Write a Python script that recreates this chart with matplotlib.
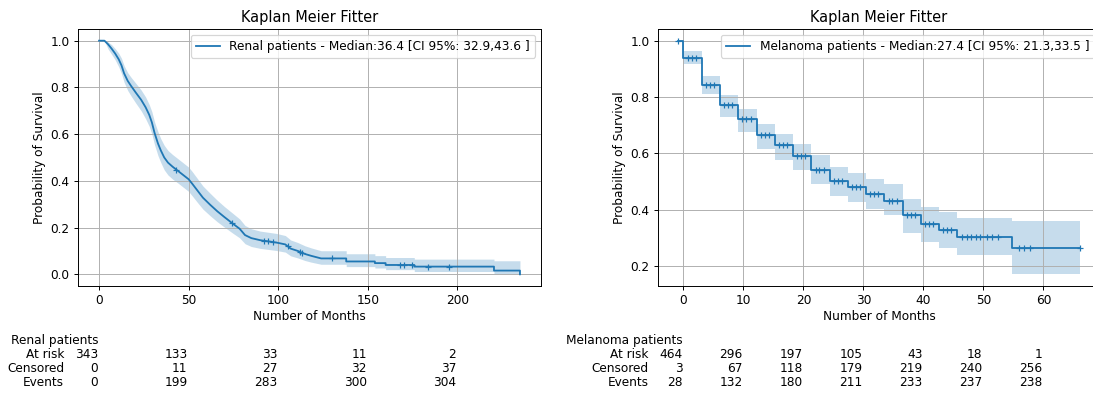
import numpy as np
import matplotlib
matplotlib.use('Agg')
import matplotlib.pyplot as plt
import matplotlib.transforms as mtransforms

# Renal patients: curve vertices (months, survival, 95% CI)
renal_t = [0, 3.0, 5.0, 7.0, 9.0, 11.0, 12.5, 14.0, 16.0, 18.0, 20.5, 23.5, 26.0, 28.0,
           29.5, 31.0, 32.9, 34.5, 36.4, 38.5, 41.0, 44.0, 47.0, 50.0, 52.0, 55.0, 58.0,
           62.0, 66.0, 70.0, 74.5, 78.5, 81.5, 85.0, 90.0, 99.0, 104.0, 107.0, 111.0,
           115.0, 118.5, 124.0, 138.0, 138.0, 154.0, 154.0, 160.0, 160.0, 176.0, 176.0,
           220.5, 220.5, 235.0, 235.0]
renal_s = [1.0, 1.0, 0.985, 0.966, 0.945, 0.920, 0.895, 0.860, 0.828, 0.805, 0.778, 0.747,
           0.715, 0.683, 0.650, 0.605, 0.560, 0.530, 0.500, 0.478, 0.461, 0.443, 0.425,
           0.407, 0.388, 0.358, 0.328, 0.298, 0.270, 0.245, 0.218, 0.195, 0.168, 0.155,
           0.146, 0.136, 0.128, 0.110, 0.100, 0.087, 0.079, 0.068, 0.068, 0.055, 0.055,
           0.048, 0.048, 0.040, 0.040, 0.033, 0.033, 0.016, 0.016, 0.0]
renal_lo = [1.0, 1.0, 0.965, 0.942, 0.918, 0.888, 0.860, 0.822, 0.787, 0.762, 0.733, 0.700,
            0.666, 0.634, 0.600, 0.554, 0.508, 0.478, 0.447, 0.425, 0.408, 0.391, 0.373,
            0.355, 0.336, 0.307, 0.279, 0.251, 0.225, 0.202, 0.177, 0.156, 0.131, 0.119,
            0.111, 0.102, 0.095, 0.079, 0.070, 0.059, 0.052, 0.043, 0.043, 0.033, 0.033,
            0.027, 0.027, 0.020, 0.020, 0.012, 0.012, 0.002, 0.002, 0.002]
renal_hi = [1.0, 1.0, 0.995, 0.983, 0.966, 0.946, 0.925, 0.893, 0.863, 0.842, 0.818, 0.789,
            0.759, 0.727, 0.696, 0.652, 0.610, 0.580, 0.552, 0.530, 0.513, 0.495, 0.477,
            0.459, 0.440, 0.409, 0.378, 0.347, 0.317, 0.290, 0.262, 0.237, 0.209, 0.195,
            0.185, 0.175, 0.166, 0.147, 0.136, 0.122, 0.113, 0.101, 0.101, 0.088, 0.088,
            0.080, 0.080, 0.072, 0.072, 0.065, 0.065, 0.058, 0.058, 0.058]
renal_cens_t = [43.0, 74.5, 92.0, 94.5, 97.0, 105.5, 112.0, 113.5, 130.0, 168.0, 170.5,
                174.5, 183.5, 195.5]
renal_cens_s = [0.447, 0.218, 0.143, 0.141, 0.138, 0.122, 0.097, 0.093, 0.068, 0.040,
                0.040, 0.040, 0.033, 0.033]
renal_label = "Renal patients - Median:36.4 [CI 95%: 32.9,43.6 ]"

# Melanoma patients: step times and levels
mel_t = [-0.9, 0.0, 3.04, 6.09, 9.13, 12.18, 15.22, 18.26, 21.31, 24.35, 27.39, 30.44,
         33.48, 36.53, 39.57, 42.61, 45.66, 54.79, 66.07]
mel_s = [1.0, 0.940, 0.843, 0.771, 0.720, 0.664, 0.629, 0.589, 0.539, 0.502, 0.480, 0.456,
         0.432, 0.379, 0.349, 0.327, 0.304, 0.262, 0.262]
mel_lo = [1.0, 0.917, 0.810, 0.730, 0.674, 0.614, 0.575, 0.539, 0.492, 0.448, 0.426, 0.402,
          0.379, 0.317, 0.286, 0.263, 0.239, 0.170, 0.170]
mel_hi = [1.0, 0.962, 0.875, 0.807, 0.758, 0.704, 0.670, 0.632, 0.593, 0.551, 0.530, 0.510,
          0.492, 0.436, 0.408, 0.390, 0.370, 0.361, 0.361]
mel_cens_t = [-0.9, 0.7, 1.35, 2.05, 3.74, 4.39, 5.09, 6.79, 7.44, 8.14, 9.83, 10.48, 11.18,
              12.88, 13.53, 14.23, 15.92, 16.57, 17.27, 18.96, 19.61, 20.31, 22.01, 22.66,
              23.36, 25.05, 25.70, 26.40, 28.09, 28.74, 29.44, 31.14, 31.79, 32.49, 34.18,
              34.83, 35.53, 37.23, 37.88, 38.58, 40.27, 40.92, 41.62, 43.31, 43.96, 44.66,
              46.5, 47.3, 48.0, 48.7, 49.5, 50.6, 51.5, 52.5, 55.9, 56.8, 57.8, 66.07]
mel_cens_s = [1.0, 0.940, 0.940, 0.940, 0.843, 0.843, 0.843, 0.771, 0.771, 0.771, 0.720,
              0.720, 0.720, 0.664, 0.664, 0.664, 0.629, 0.629, 0.629, 0.589, 0.589, 0.589,
              0.539, 0.539, 0.539, 0.502, 0.502, 0.502, 0.480, 0.480, 0.480, 0.456, 0.456,
              0.456, 0.432, 0.432, 0.432, 0.379, 0.379, 0.379, 0.349, 0.349, 0.349, 0.327,
              0.327, 0.327, 0.304, 0.304, 0.304, 0.304, 0.304, 0.304, 0.304, 0.304, 0.262,
              0.262, 0.262, 0.262]
mel_label = "Melanoma patients - Median:27.4 [CI 95%: 21.3,33.5 ]"

# at-risk tables
renal_ticks = [0, 50, 100, 150, 200]
renal_at_risk = [343, 133, 33, 11, 2]
renal_censored = [0, 11, 27, 32, 37]
renal_events = [0, 199, 283, 300, 304]

mel_ticks = [0, 10, 20, 30, 40, 50, 60]
mel_at_risk = [464, 296, 197, 105, 43, 18, 1]
mel_censored = [3, 67, 118, 179, 219, 240, 256]
mel_events = [28, 132, 180, 211, 233, 237, 238]

color = '#1f77b4'
W, H = 1093, 394
DPI = 87
fig = plt.figure(figsize=(W / DPI, H / DPI), dpi=DPI)
ax1 = fig.add_axes([78 / W, (H - 286) / H, 463 / W, 257 / H])
ax2 = fig.add_axes([658 / W, (H - 286) / H, 442 / W, 257 / H])

# left: renal
ax1.fill_between(renal_t, renal_lo, renal_hi, color=color, alpha=0.25, linewidth=0)
ax1.plot(renal_t, renal_s, color=color, lw=1.5, label=renal_label)
ax1.plot(renal_cens_t, renal_cens_s, ls='none', marker='+', ms=5, mew=1, color=color)

# right: melanoma
ax2.fill_between(mel_t, mel_lo, mel_hi, step='post', color=color, alpha=0.25, linewidth=0)
ax2.step(mel_t, mel_s, where='post', color=color, lw=1.5, label=mel_label)
ax2.plot(mel_cens_t, mel_cens_s, ls='none', marker='+', ms=5, mew=1, color=color)

for ax in (ax1, ax2):
    ax.set_title('Kaplan Meier Fitter')
    ax.set_xlabel('Number of Months', labelpad=3)
    ax.set_ylabel('Probability of Survival')
    ax.tick_params(axis='x', pad=2.8)
    ax.grid(True)
    ax.legend(loc='upper right')


def add_counts(ax, name, ticks, at_risk, censored, events):
    trans = mtransforms.blended_transform_factory(ax.transData, fig.transFigure)
    lab_trans = mtransforms.offset_copy(trans, fig=fig, x=-35, y=0, units='dots')
    num_trans = mtransforms.offset_copy(trans, fig=fig, x=-1, y=0, units='dots')
    rows = [('At risk', at_risk), ('Censored', censored), ('Events', events)]
    ax.text(ticks[0], 1 - 344 / H, name, transform=num_trans, ha='right', va='baseline')
    for i, (lab, vals) in enumerate(rows):
        y = 1 - (358 + 14 * i) / H
        ax.text(ticks[0], y, lab, transform=lab_trans, ha='right', va='baseline')
        for x, v in zip(ticks, vals):
            ax.text(x, y, str(v), transform=num_trans, ha='right', va='baseline')


add_counts(ax1, 'Renal patients', renal_ticks, renal_at_risk, renal_censored, renal_events)
add_counts(ax2, 'Melanoma patients', mel_ticks, mel_at_risk, mel_censored, mel_events)

fig.savefig('out.png', dpi=DPI)
